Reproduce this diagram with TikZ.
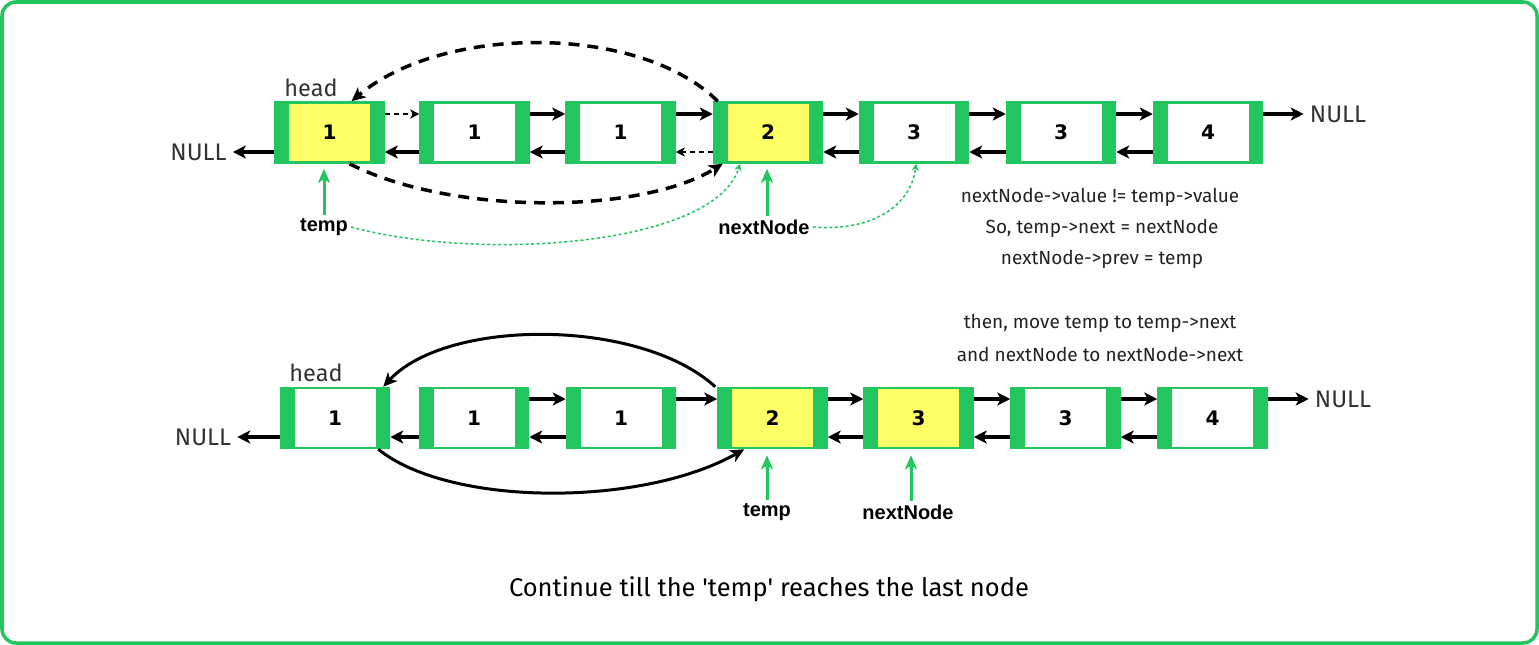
\documentclass[tikz,border=0pt]{standalone}
\usepackage{fontspec}
\setmainfont{Fira Sans}
\newfontfamily\numfont{DejaVu Sans}
\newfontfamily\lblfont{Liberation Sans}
\usetikzlibrary{arrows.meta}
\definecolor{gr}{HTML}{22C55E}
\definecolor{yel}{HTML}{FFFF66}
\definecolor{txt}{HTML}{222222}
\definecolor{lt}{HTML}{333333}
\tikzset{
  lnode/.style={draw=gr, line width=2.5pt, fill=white, minimum width=108pt, minimum height=60pt,
    inner sep=0pt, font=\numfont\bfseries\fontsize{20}{20}\selectfont,
    path picture={
      \fill[gr] (path picture bounding box.north west) rectangle ([xshift=13.5pt]path picture bounding box.south west);
      \fill[gr] (path picture bounding box.north east) rectangle ([xshift=-13.5pt]path picture bounding box.south east);}},
  ynode/.style={lnode, fill=yel},
  nx/.style={-{Stealth[length=13pt,width=13pt,inset=3.5pt]}, line width=3.2pt, black},
  dnx/.style={-{Stealth[length=9pt,width=9pt,inset=2.5pt]}, line width=2pt, black, dash pattern=on 5pt off 4pt},
  bigdash/.style={-{Stealth[length=14pt,width=13pt,inset=4pt]}, line width=3.5pt, black, dash pattern=on 11pt off 8pt},
  curvearr/.style={-{Stealth[length=14pt,width=13pt,inset=4pt]}, line width=3pt, black},
  grarrow/.style={-{Stealth[length=14pt,width=12pt,inset=3.5pt]}, line width=3pt, gr},
  grdot/.style={-{Stealth[length=7pt,width=7pt,inset=2pt]}, line width=1.5pt, gr, dash pattern=on 3pt off 2.5pt},
  nulllbl/.style={font=\fontsize{24}{24}\selectfont, text=lt, inner sep=6pt},
  headlbl/.style={font=\fontsize{23.5}{23.5}\selectfont, text=lt, inner sep=2pt},
  lbl/.style={font=\lblfont\bfseries\fontsize{20}{20}\selectfont, text=black, inner sep=3pt},
  expl/.style={font=\fontsize{19}{19}\selectfont, text=txt, inner sep=2pt},
  captxt/.style={font=\fontsize{25.5}{25.5}\selectfont, text=black, inner sep=2pt}
}
\begin{document}
\begin{tikzpicture}[x=1pt,y=-1pt]
\useasboundingbox (0,0) rectangle (1539,645);
\draw[gr, line width=3.5pt, rounded corners=14pt] (2,2) rectangle (1537,643);

% ---------- top row ----------
\node[ynode] (t1) at (329.5,132.5) {1};
\node[lnode] (t2) at (474.5,132.5) {1};
\node[lnode] (t3) at (620.5,132.5) {1};
\node[ynode] (t4) at (768,132.5) {2};
\node[lnode] (t5) at (914,132.5) {3};
\node[lnode] (t6) at (1061,132.5) {3};
\node[lnode] (t7) at (1208,132.5) {4};

\node[headlbl] (h1) at (311,88) {head};
\node[nulllbl] (nl1) at (198.5,152) {NULL};
\node[nulllbl] (nr1) at (1338,114) {NULL};

\draw[nx] ([yshift=-19.5pt]t1.west) -- (nl1.east);
\draw[nx] ([yshift=18.5pt]t7.east) -- (nr1.west);
\draw[dnx] ([yshift=18.5pt]t1.east) -- ([yshift=18.5pt]t2.west);
\draw[nx] ([yshift=-19.5pt]t2.west) -- ([yshift=-19.5pt]t1.east);
\draw[nx] ([yshift=18.5pt]t2.east) -- ([yshift=18.5pt]t3.west);
\draw[nx] ([yshift=-19.5pt]t3.west) -- ([yshift=-19.5pt]t2.east);
\draw[nx] ([yshift=18.5pt]t3.east) -- ([yshift=18.5pt]t4.west);
\draw[dnx] ([yshift=-19.5pt]t4.west) -- ([yshift=-19.5pt]t3.east);
\draw[nx] ([yshift=18.5pt]t4.east) -- ([yshift=18.5pt]t5.west);
\draw[nx] ([yshift=-19.5pt]t5.west) -- ([yshift=-19.5pt]t4.east);
\draw[nx] ([yshift=18.5pt]t5.east) -- ([yshift=18.5pt]t6.west);
\draw[nx] ([yshift=-19.5pt]t6.west) -- ([yshift=-19.5pt]t5.east);
\draw[nx] ([yshift=18.5pt]t6.east) -- ([yshift=18.5pt]t7.west);
\draw[nx] ([yshift=-19.5pt]t7.west) -- ([yshift=-19.5pt]t6.east);

\draw[bigdash] ([xshift=5pt]t4.north west) .. controls (640,24) and (443,24) .. ([xshift=22pt]t1.north);
\draw[bigdash] ([xshift=20pt]t1.south) .. controls (450,215) and (640,215) .. ([xshift=10pt]t4.south west);

\node[lbl] (temp1) at (324,227) {temp};
\node[lbl] (nn1) at (764,227) {nextNode};
\draw[grarrow, shorten >=5pt] (temp1.north) -- ([xshift=-5.5pt]t1.south);
\draw[grarrow, shorten >=5pt] ([xshift=3pt]nn1.north) -- ([xshift=-1pt]t4.south);
\draw[grdot] (temp1.east) .. controls (480,262) and (715,246) .. ([xshift=-28pt]t4.south);
\draw[grdot] (nn1.east) .. controls (880,232) and (912,200) .. ([xshift=2pt]t5.south);

\node[expl] (e1) at (1100,197) {nextNode->value != temp->value};
\node[expl] (e2) at (1102,228) {So, temp->next = nextNode};
\node[expl] (e3) at (1102,259) {nextNode->prev = temp};
\node[expl] (e4) at (1100,323) {then, move temp to temp->next};
\node[expl] (e5) at (1100,354) {and nextNode to nextNode->next};

% ---------- bottom row ----------
\node[lnode] (b1) at (335,418) {1};
\node[lnode] (b2) at (474,418) {1};
\node[lnode] (b3) at (621,418) {1};
\node[ynode] (b4) at (772.5,418) {2};
\node[ynode] (b5) at (918.5,418) {3};
\node[lnode] (b6) at (1065.5,418) {3};
\node[lnode] (b7) at (1212.5,418) {4};

\node[headlbl] (h2) at (316,373) {head};
\node[nulllbl] (nl2) at (203,437) {NULL};
\node[nulllbl] (nr2) at (1343,399) {NULL};

\draw[nx] ([yshift=-19pt]b1.west) -- (nl2.east);
\draw[nx] ([yshift=19pt]b7.east) -- (nr2.west);
\draw[nx] ([yshift=-19pt]b2.west) -- ([yshift=-19pt]b1.east);
\draw[nx] ([yshift=19pt]b2.east) -- ([yshift=19pt]b3.west);
\draw[nx] ([yshift=-19pt]b3.west) -- ([yshift=-19pt]b2.east);
\draw[nx] ([yshift=19pt]b3.east) -- ([yshift=19pt]b4.west);
\draw[nx] ([yshift=19pt]b4.east) -- ([yshift=19pt]b5.west);
\draw[nx] ([yshift=-19pt]b5.west) -- ([yshift=-19pt]b4.east);
\draw[nx] ([yshift=19pt]b5.east) -- ([yshift=19pt]b6.west);
\draw[nx] ([yshift=-19pt]b6.west) -- ([yshift=-19pt]b5.east);
\draw[nx] ([yshift=19pt]b6.east) -- ([yshift=19pt]b7.west);
\draw[nx] ([yshift=-19pt]b7.west) -- ([yshift=-19pt]b6.east);

\draw[curvearr] ([xshift=-2pt]b4.north west) .. controls (640,318) and (447,318) .. ([xshift=-7pt]b1.north east);
\draw[curvearr] ([xshift=-12pt]b1.south east) .. controls (450,507) and (642,507) .. ([xshift=27pt]b4.south west);

\node[lbl] (temp2) at (767,512) {temp};
\node[lbl] (nn2) at (908,512) {nextNode};
\draw[grarrow, shorten >=6pt] (temp2.north) -- ([xshift=-5.5pt]b4.south);
\draw[grarrow, shorten >=6pt] ([xshift=3pt]nn2.north) -- ([xshift=-7.5pt]b5.south);

\node[captxt] (c) at (769,589) {Continue till the \textquotesingle temp\textquotesingle\ reaches the last node};
\end{tikzpicture}
\end{document}
